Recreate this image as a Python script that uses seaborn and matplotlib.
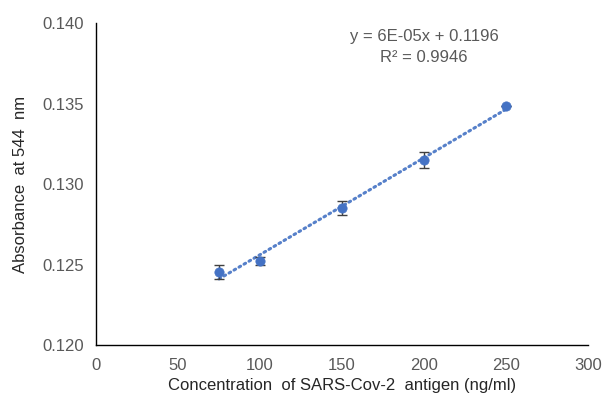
import numpy as np
import pandas as pd
import matplotlib
matplotlib.use("Agg")
import matplotlib.pyplot as plt
import seaborn as sns

# Calibration data: SARS-CoV-2 antigen concentration vs absorbance at 544 nm
concentration = [75, 100, 150, 200, 250]
absorbance = [0.12455, 0.12524, 0.1285, 0.1315, 0.13486]
absorbance_sd = [0.00042, 0.00025, 0.00044, 0.00048, 0.0]

x_ticks = [0, 50, 100, 150, 200, 250, 300]
y_ticks = [0.120, 0.125, 0.130, 0.135, 0.140]
equation_text = "y = 6E-05x + 0.1196"
r2_text = "R\u00b2 = 0.9946"

df = pd.DataFrame({"conc": concentration, "abs": absorbance, "sd": absorbance_sd})

sns.set_style("white")
plt.rcParams["font.family"] = ["Liberation Sans", "DejaVu Sans"]

blue = "#4472C4"
grey_text = "#595959"
fs = 12

fig = plt.figure(figsize=(6.08, 4.07), dpi=100)
ax = fig.add_axes([0.158, 0.152, 0.809, 0.791])

# Linear trendline (dotted) over the measured range
sns.regplot(data=df, x="conc", y="abs", scatter=False, ci=None, ax=ax,
            line_kws=dict(color=blue, lw=2.2, ls=(0, (0.6, 1.3)),
                          dash_capstyle="round", alpha=0.9))

# Error bars and points
ax.errorbar(df["conc"], df["abs"], yerr=df["sd"], fmt="none",
            ecolor="#404040", elinewidth=1.0, capsize=3.3, capthick=1.0, zorder=3)
sns.scatterplot(data=df, x="conc", y="abs", ax=ax, color=blue, s=45,
                edgecolor=blue, linewidth=0.5, zorder=4)

ax.text(200, 0.1392, equation_text, ha="center", va="center",
        fontsize=fs, color=grey_text)
ax.text(200, 0.1379, r2_text, ha="center", va="center",
        fontsize=fs, color=grey_text)

ax.set_xlim(0, 300)
ax.set_ylim(0.120, 0.140)
ax.set_xticks(x_ticks)
ax.set_yticks(y_ticks)
ax.set_xticklabels([str(t) for t in x_ticks])
ax.set_yticklabels([f"{t:.3f}" for t in y_ticks])
ax.tick_params(axis="both", length=0, labelsize=fs, labelcolor=grey_text, pad=9)

ax.set_xlabel("Concentration  of SARS-Cov-2  antigen (ng/ml)", fontsize=fs,
              color="#262626", labelpad=4)
ax.set_ylabel("Absorbance  at 544  nm", fontsize=fs, color="#262626", labelpad=10)

for side in ["top", "right"]:
    ax.spines[side].set_visible(False)
for side in ["left", "bottom"]:
    ax.spines[side].set_color("black")
    ax.spines[side].set_linewidth(1.0)

fig.savefig("out.png", dpi=100)
